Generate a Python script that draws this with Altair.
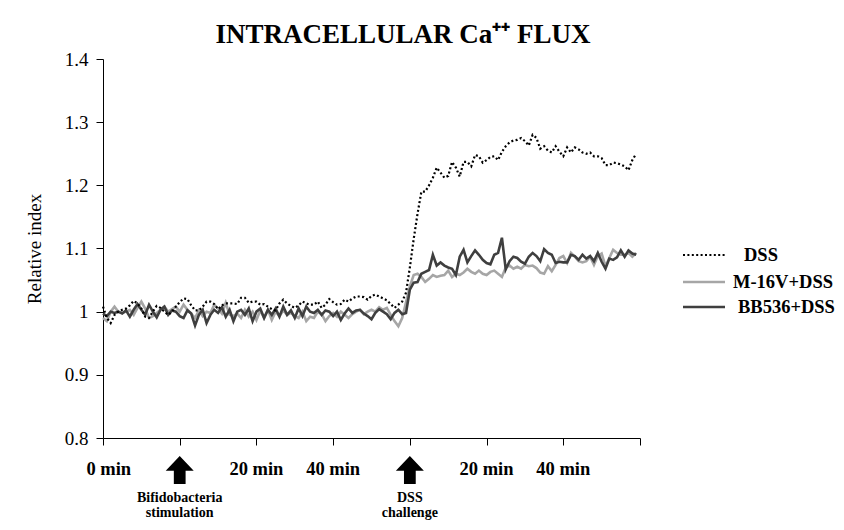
import altair as alt
import pandas as pd

# ---------------- data ----------------
minutes = list(range(140))  # 0..139, 20 units per axis interval

dss = [1.008, 0.990, 0.982, 0.995, 1.000, 1.003, 1.005, 1.010, 1.017, 1.013,
       1.005, 0.992, 0.990, 1.000, 1.009, 1.006, 1.000, 0.995, 1.000, 1.008,
       1.015, 1.021, 1.020, 1.010, 1.002, 1.002, 1.008, 1.016, 1.016, 1.012,
       1.004, 1.010, 1.013, 1.013, 1.013, 1.012, 1.022, 1.022, 1.014, 1.016,
       1.016, 1.011, 1.012, 1.008, 1.004, 1.002, 1.013, 1.019, 1.013, 1.009,
       1.006, 1.010, 1.016, 1.013, 1.011, 1.011, 1.016, 1.006, 1.011, 1.020,
       1.015, 1.011, 1.012, 1.019, 1.016, 1.021, 1.024, 1.024, 1.023, 1.019,
       1.025, 1.027, 1.024, 1.021, 1.018, 1.012, 1.006, 1.011, 1.016, 1.030,
       1.070, 1.115, 1.155, 1.190, 1.190, 1.200, 1.212, 1.228, 1.220, 1.212,
       1.215, 1.237, 1.228, 1.214, 1.237, 1.237, 1.230, 1.248, 1.246, 1.236,
       1.240, 1.245, 1.246, 1.240, 1.253, 1.262, 1.268, 1.271, 1.272, 1.275,
       1.270, 1.263, 1.280, 1.275, 1.258, 1.262, 1.255, 1.252, 1.262, 1.253,
       1.246, 1.260, 1.252, 1.260, 1.257, 1.252, 1.250, 1.252, 1.246, 1.246,
       1.243, 1.232, 1.232, 1.236, 1.235, 1.233, 1.230, 1.224, 1.240, 1.250]

m16v = [0.990, 0.985, 1.000, 1.008, 1.000, 0.998, 1.000, 1.003, 0.995, 1.006,
        1.016, 1.005, 0.990, 0.993, 0.998, 1.003, 1.008, 1.000, 1.004, 1.008,
        1.000, 1.011, 1.003, 0.997, 0.990, 1.002, 0.993, 1.000, 0.998, 1.011,
        1.005, 0.997, 1.014, 0.995, 0.993, 0.997, 0.990, 1.003, 0.992, 1.000,
        0.987, 1.002, 0.990, 1.003, 0.987, 1.000, 0.993, 1.002, 0.995, 0.998,
        0.993, 0.990, 1.000, 0.985, 0.992, 0.990, 1.000, 0.996, 0.985, 0.993,
        0.998, 0.992, 1.000, 0.995, 0.990, 0.996, 1.000, 1.003, 0.996, 1.000,
        1.003, 1.000, 1.007, 1.003, 1.006, 0.995, 0.985, 0.977, 0.990, 1.015,
        1.040, 1.058, 1.060, 1.055, 1.047, 1.052, 1.058, 1.055, 1.057, 1.058,
        1.065, 1.055, 1.060, 1.058, 1.062, 1.068, 1.063, 1.060, 1.065, 1.060,
        1.058, 1.063, 1.065, 1.060, 1.055, 1.070, 1.073, 1.068, 1.071, 1.068,
        1.074, 1.072, 1.073, 1.069, 1.062, 1.060, 1.072, 1.064, 1.074, 1.085,
        1.088, 1.077, 1.093, 1.087, 1.080, 1.078, 1.080, 1.087, 1.074, 1.088,
        1.092, 1.072, 1.085, 1.098, 1.093, 1.090, 1.090, 1.093, 1.087, 1.093]

bb536 = [0.997, 0.993, 1.000, 0.998, 1.000, 0.997, 1.002, 0.992, 1.003, 1.012,
         1.003, 0.995, 1.011, 1.000, 0.991, 1.003, 1.008, 0.995, 1.002, 1.000,
         0.993, 0.990, 1.002, 0.997, 0.978, 0.995, 1.003, 0.982, 0.995, 1.003,
         0.998, 1.007, 0.992, 1.003, 0.985, 1.000, 1.003, 0.995, 1.005, 0.985,
         1.000, 1.005, 0.990, 1.003, 0.995, 1.005, 0.992, 1.008, 0.995, 1.002,
         0.990, 1.005, 0.993, 1.008, 1.000, 0.998, 1.003, 0.995, 1.002, 1.000,
         0.993, 1.000, 0.987, 0.997, 1.005, 0.998, 1.002, 1.003, 0.997, 0.993,
         0.988, 0.998, 1.004, 1.000, 0.996, 0.988, 0.998, 1.003, 0.996, 0.998,
         1.035, 1.046, 1.047, 1.060, 1.063, 1.066, 1.090, 1.073, 1.078, 1.073,
         1.070, 1.068, 1.058, 1.087, 1.098, 1.078, 1.088, 1.097, 1.090, 1.082,
         1.077, 1.075, 1.090, 1.093, 1.117, 1.067, 1.080, 1.087, 1.085, 1.079,
         1.076, 1.087, 1.093, 1.088, 1.080, 1.099, 1.093, 1.090, 1.077, 1.079,
         1.078, 1.078, 1.090, 1.088, 1.082, 1.090, 1.084, 1.088, 1.080, 1.093,
         1.079, 1.068, 1.084, 1.082, 1.086, 1.097, 1.087, 1.097, 1.092, 1.090]

series_names = ["DSS", "M-16V+DSS", "BB536+DSS"]
series_colors = ["#000000", "#a6a6a6", "#3f3f3f"]

x_ticks = [0, 20, 40, 60, 80, 100, 120, 140]
y_ticks = [0.8, 0.9, 1.0, 1.1, 1.2, 1.3, 1.4]
time_label_pos = [1.5, 40, 60, 100, 120]
time_label_text = ["0 min", "20 min", "40 min", "20 min", "40 min"]
event_pos = [20, 80]
event_text = ["Bifidobacteria\nstimulation", "DSS\nchallenge"]

title_text = "INTRACELLULAR Ca\u207a\u207a FLUX"
y_title = "Relative index"

FONT = "Liberation Serif"
ARROW = "M0,-1L1,0.05L0.42,0.05L0.42,1L-0.42,1L-0.42,0.05L-1,0.05Z"

# ---------------- chart ----------------
xscale = alt.Scale(domain=[0, 140], nice=False, zero=False)
yscale = alt.Scale(domain=[0.8, 1.4], nice=False, zero=False)

x_axis = alt.Axis(values=x_ticks, labels=False, title=None, grid=False,
                  tickSize=7, tickColor="black", domainColor="black",
                  tickWidth=1, domainWidth=1)
y_axis = alt.Axis(values=y_ticks, grid=False, title=y_title,
                  labelExpr="datum.value == 1 ? '1' : format(datum.value, '.1f')",
                  labelFont=FONT, labelFontSize=19, labelColor="black",
                  labelPadding=8, tickSize=7, tickColor="black",
                  domainColor="black", titleFont=FONT, titleFontSize=19,
                  titleFontWeight="normal", titleColor="black", titlePadding=20)


def series_df(vals):
    return pd.DataFrame({"t": minutes, "v": vals})


gray = alt.Chart(series_df(m16v)).mark_line(
    color=series_colors[1], strokeWidth=2.6).encode(
    x=alt.X("t:Q", scale=xscale, axis=x_axis),
    y=alt.Y("v:Q", scale=yscale, axis=y_axis))

dark = alt.Chart(series_df(bb536)).mark_line(
    color=series_colors[2], strokeWidth=2.6).encode(
    x=alt.X("t:Q", scale=xscale), y=alt.Y("v:Q", scale=yscale))

dotted = alt.Chart(series_df(dss)).mark_line(
    color=series_colors[0], strokeWidth=2.2, strokeDash=[2, 2.4]).encode(
    x=alt.X("t:Q", scale=xscale), y=alt.Y("v:Q", scale=yscale))

time_labels = alt.Chart(pd.DataFrame({"p": time_label_pos, "txt": time_label_text})).mark_text(
    font=FONT, fontSize=18.5, fontWeight="bold", color="black", baseline="middle").encode(
    x=alt.X("p:Q", scale=xscale), y=alt.value(410), text="txt:N")

arrows = alt.Chart(pd.DataFrame({"p": event_pos})).mark_point(
    shape=ARROW, filled=True, color="black", opacity=1, size=784, strokeWidth=0).encode(
    x=alt.X("p:Q", scale=xscale), y=alt.value(411))

events = alt.Chart(pd.DataFrame({"p": event_pos, "txt": event_text})).mark_text(
    font=FONT, fontSize=14, fontWeight="bold", color="black", baseline="top",
    lineBreak="\n", lineHeight=14.5).encode(
    x=alt.X("p:Q", scale=xscale), y=alt.value(432), text="txt:N")

title = alt.Chart(pd.DataFrame({"txt": [title_text]})).mark_text(
    font=FONT, fontSize=27, fontWeight="bold", color="black", baseline="alphabetic").encode(
    x=alt.value(300), y=alt.value(-16), text="txt:N")

legend_layers = []
legend_y = [196, 223, 248]
legend_label_x = [641, 630, 635]
legend_dash = [[2, 2.4], [1, 0], [1, 0]]
legend_width = [2.2, 2.6, 2.6]
for i, name in enumerate(series_names):
    d = pd.DataFrame({"s": [name]})
    legend_layers.append(alt.Chart(d).mark_rule(
        color=series_colors[i], strokeWidth=legend_width[i], strokeDash=legend_dash[i]).encode(
        x=alt.value(580), x2=alt.value(622), y=alt.value(legend_y[i])))
    legend_layers.append(alt.Chart(d).mark_text(
        font=FONT, fontSize=18.5, fontWeight="bold", color="black", align="left",
        baseline="middle").encode(
        x=alt.value(legend_label_x[i]), y=alt.value(legend_y[i]), text="s:N"))

chart = alt.layer(gray, dark, dotted, time_labels, arrows, events, title, *legend_layers).properties(
    width=537, height=379,
    padding={"left": 95, "top": 51, "right": 196, "bottom": 84},
    autosize=alt.AutoSizeParams(type="none"),
    background="white",
).configure_view(stroke=None)

chart.save("out.html", embed_options={"renderer": "svg", "actions": False})
